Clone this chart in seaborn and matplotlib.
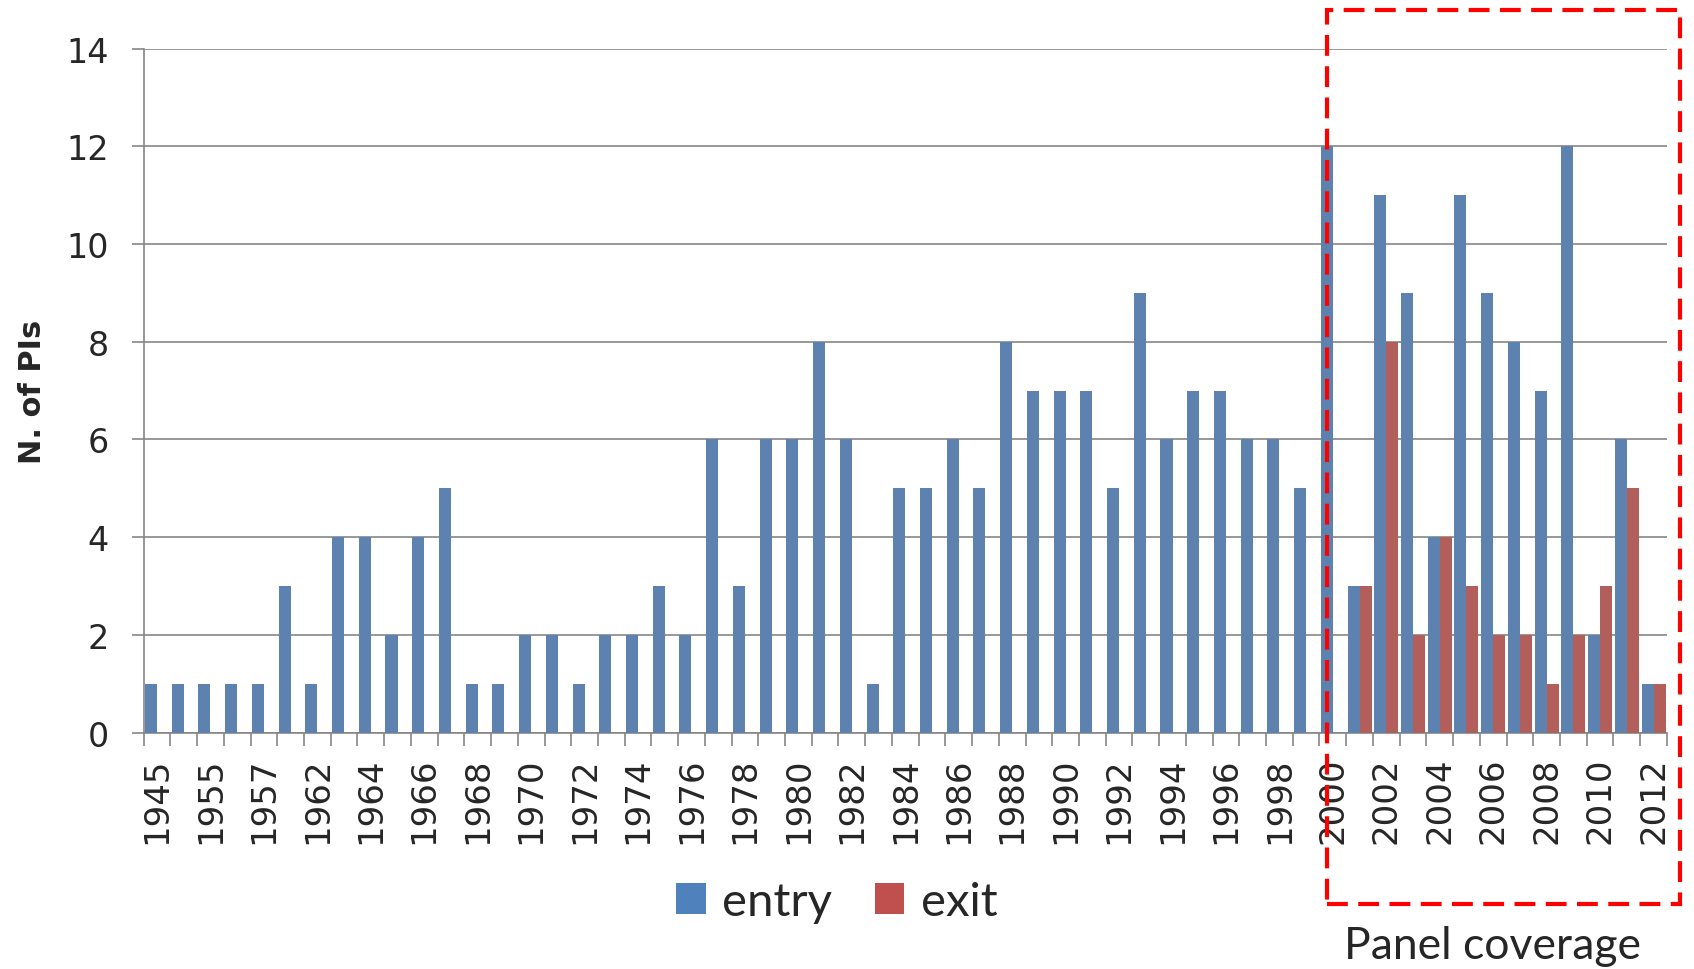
import matplotlib
matplotlib.use("Agg")
import matplotlib.pyplot as plt
import matplotlib.transforms as mtransforms
from matplotlib.patches import Rectangle, Patch
import pandas as pd
import seaborn as sns

# Years (categories) and counts of PIs entering / exiting
years = ["1945", "1950", "1955", "1956", "1957", "1960",
         "1962", "1963", "1964", "1965", "1966", "1967", "1968", "1969",
         "1970", "1971", "1972", "1973", "1974", "1975", "1976", "1977",
         "1978", "1979", "1980", "1981", "1982", "1983", "1984", "1985",
         "1986", "1987", "1988", "1989", "1990", "1991", "1992", "1993",
         "1994", "1995", "1996", "1997", "1998", "1999", "2000", "2001",
         "2002", "2003", "2004", "2005", "2006", "2007", "2008", "2009",
         "2010", "2011", "2012"]
entry = [1, 1, 1, 1, 1, 3,
         1, 4, 4, 2, 4, 5, 1, 1,
         2, 2, 1, 2, 2, 3, 2, 6,
         3, 6, 6, 8, 6, 1, 5, 5,
         6, 5, 8, 7, 7, 7, 5, 9,
         6, 7, 7, 6, 6, 5, 12, 3,
         11, 9, 4, 11, 9, 8, 7, 12,
         2, 6, 1]
exit_ = [0, 0, 0, 0, 0, 0,
         0, 0, 0, 0, 0, 0, 0, 0,
         0, 0, 0, 0, 0, 0, 0, 0,
         0, 0, 0, 0, 0, 0, 0, 0,
         0, 0, 0, 0, 0, 0, 0, 0,
         0, 0, 0, 0, 0, 0, 0, 3,
         8, 2, 4, 3, 2, 2, 1, 2,
         3, 5, 1]
series_names = ["entry", "exit"]
series_colors = ["#4F81BD", "#C0504D"]
ylabel_text = "N. of PIs"
box_label = "Panel coverage"
panel_start = "2000"

df = pd.DataFrame({
    "year": years * 2,
    "series": [series_names[0]] * len(years) + [series_names[1]] * len(years),
    "count": entry + exit_,
})

sns.set_style("white")
plt.rcParams["font.family"] = ["DejaVu Sans"]

grid_gray = "#868686"
fig = plt.figure(figsize=(16.94, 9.70), dpi=100)
ax = fig.add_axes([0.0848, 0.2437, 0.984 - 0.0848, 0.9488 - 0.2437])

sns.barplot(data=df, x="year", y="count", hue="series", order=years,
            hue_order=series_names, palette=series_colors, width=0.9,
            linewidth=0, errorbar=None, legend=False, ax=ax, zorder=3)

ax.set_xlim(-0.5, len(years) - 0.5)
ax.set_ylim(0, 14)
ax.set_yticks(range(0, 15, 2))
ax.yaxis.grid(True, color=grid_gray, linewidth=1.2, zorder=0)
ax.set_axisbelow(True)

for side in ("top", "right"):
    ax.spines[side].set_visible(False)
for side in ("left", "bottom"):
    ax.spines[side].set_color(grid_gray)
    ax.spines[side].set_linewidth(1.2)

# category labels on every other year, tick marks between categories
ax.set_xticks(range(len(years)))
ax.set_xticklabels([y if i % 2 == 0 else "" for i, y in enumerate(years)],
                   rotation=90, fontsize=24.5)
ax.set_xticks([i - 0.5 for i in range(len(years) + 1)], minor=True)
ax.tick_params(axis="x", which="major", length=0, pad=17)
ax.tick_params(axis="x", which="minor", length=9, width=1.2, color=grid_gray,
               direction="out", bottom=True)
ax.tick_params(axis="y", length=9, width=1.2, color=grid_gray,
               direction="out", left=True, labelsize=24, pad=16)

ax.set_xlabel("")
ax.set_ylabel(ylabel_text, fontsize=22, fontweight="bold", labelpad=14)

# legend below the plot
handles = [Patch(facecolor=c, edgecolor="none") for c in series_colors]
fig.legend(handles, series_names, loc="center", bbox_to_anchor=(0.494, 0.069),
           ncol=2, frameon=False, prop={"family": "Lato", "size": 34},
           handlelength=0.62, handleheight=0.62, handletextpad=0.35,
           columnspacing=0.9)

# dashed box marking the panel period
trans = mtransforms.blended_transform_factory(ax.transData, fig.transFigure)
x0 = years.index(panel_start) - 0.225
x1 = len(years) - 0.5 + 0.49
box = Rectangle((x0, 1 - 905 / 970), x1 - x0, (905 - 11) / 970,
                transform=trans, fill=False, edgecolor="#FF0000",
                linewidth=3, linestyle=(0, (5, 2.5)), clip_on=False, zorder=10)
fig.add_artist(box)
fig.text(0.881, 1 - 947 / 970, box_label, ha="center", va="center",
         fontsize=32, family="Lato")

fig.savefig("out.png", dpi=100, facecolor="white")
